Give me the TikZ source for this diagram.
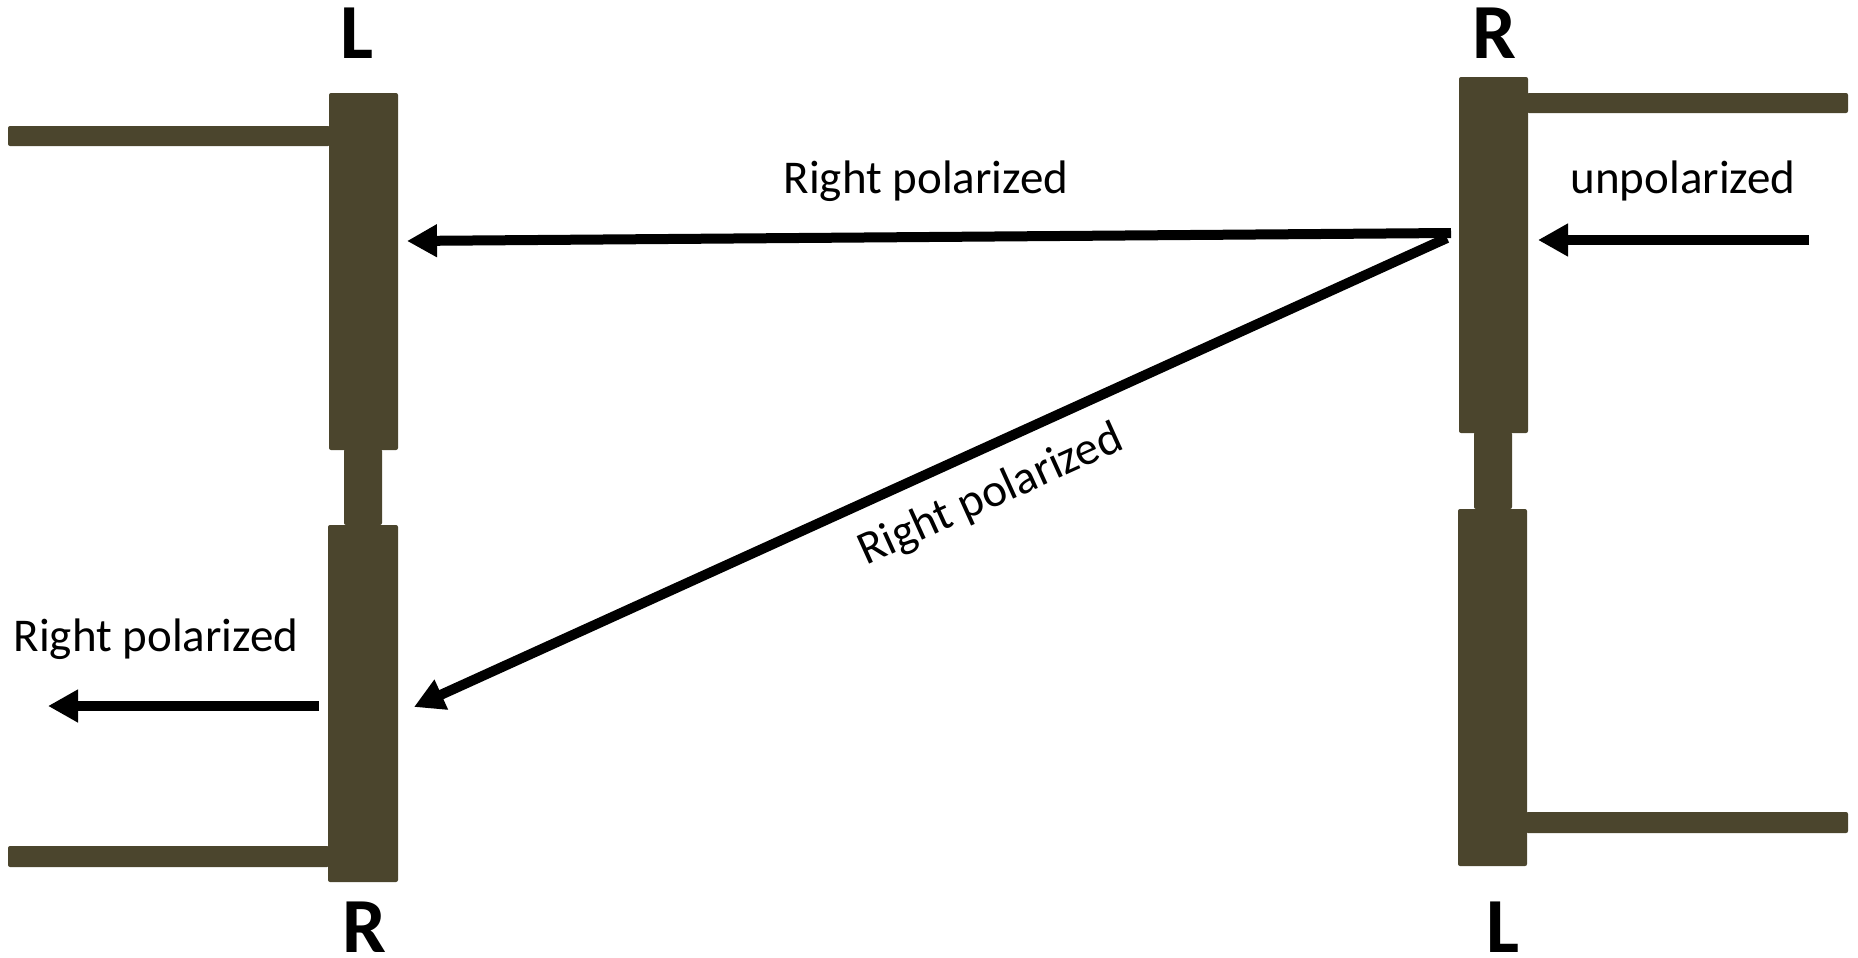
\documentclass[tikz,border=0pt]{standalone}
\usepackage{fontspec}
\setmainfont{Carlito}
\usetikzlibrary{arrows.meta}
\definecolor{plate}{RGB}{75,69,45}
\tikzset{
  mirror/.style={fill=plate, draw=none, inner sep=0pt, outer sep=0pt, rounded corners=1pt, anchor=north west},
  ray/.style={draw=black, line width=5pt, -{Triangle[length=15pt, width=15.5pt]}},
  lbl/.style={font=\fontsize{23.5pt}{28pt}\selectfont, anchor=base, inner sep=0pt},
  side/.style={font=\fontsize{39pt}{46pt}\selectfont\bfseries, inner sep=0pt}
}
\begin{document}
\begin{tikzpicture}[x=0.5pt, y=-0.5pt]
\useasboundingbox (0,0) rectangle (1858,958);

% left device: two plates joined by a neck, arms to the left
\node[mirror, minimum width=19pt, minimum height=38pt] (LC) at (344,449) {};
\node[mirror, minimum width=161pt, minimum height=10pt] (LbarT) at (8,126) {};
\node[mirror, minimum width=160.5pt, minimum height=10.5pt] (LbarB) at (8,846) {};
\node[mirror, minimum width=34.5pt, minimum height=178.5pt] (LU) at (329,93) {};
\node[mirror, minimum width=35pt, minimum height=178.5pt] (LL) at (328,525) {};

% right device: two plates joined by a neck, arms to the right
\node[mirror, minimum width=19pt, minimum height=38.5pt] (RC) at (1474,432) {};
\node[mirror, minimum width=160.5pt, minimum height=10pt] (RbarT) at (1527,93) {};
\node[mirror, minimum width=161pt, minimum height=10.5pt] (RbarB) at (1526,812) {};
\node[mirror, minimum width=34.5pt, minimum height=178pt] (RU) at (1459,77) {};
\node[mirror, minimum width=34.5pt, minimum height=178.5pt] (RL) at (1458,509) {};

% side letters
\node[side] (tL1) at (357,33) {L};
\node[side] (tR1) at (364,927) {R};
\node[side] (tR2) at (1494,33) {R};
\node[side] (tL2) at (1503,927) {L};

% ray end points
\coordinate (inS)  at (1809,240);
\coordinate (inE)  at (1538,240);
\coordinate (topS) at (1451,233);
\coordinate (topE) at (407,241);
\coordinate (diaS) at (1447,238);
\coordinate (diaE) at (414,707);
\coordinate (outS) at (319,706);
\coordinate (outE) at (48,706);

% rays
\draw[ray] (inS) -- (inE);
\draw[ray] (topS) -- (topE);
\draw[ray] (diaS) -- (diaE);
\draw[ray] (outS) -- (outE);

% ray labels
\node[lbl] (lin) at (1683,193) {unpolarized};
\node[lbl] (ltop) at (926,193) {Right polarized};
\node[lbl] (lout) at (156,651) {Right polarized};
\node[lbl, anchor=center, rotate=24.4] (ldia) at (991,496) {Right polarized};
\end{tikzpicture}
\end{document}
